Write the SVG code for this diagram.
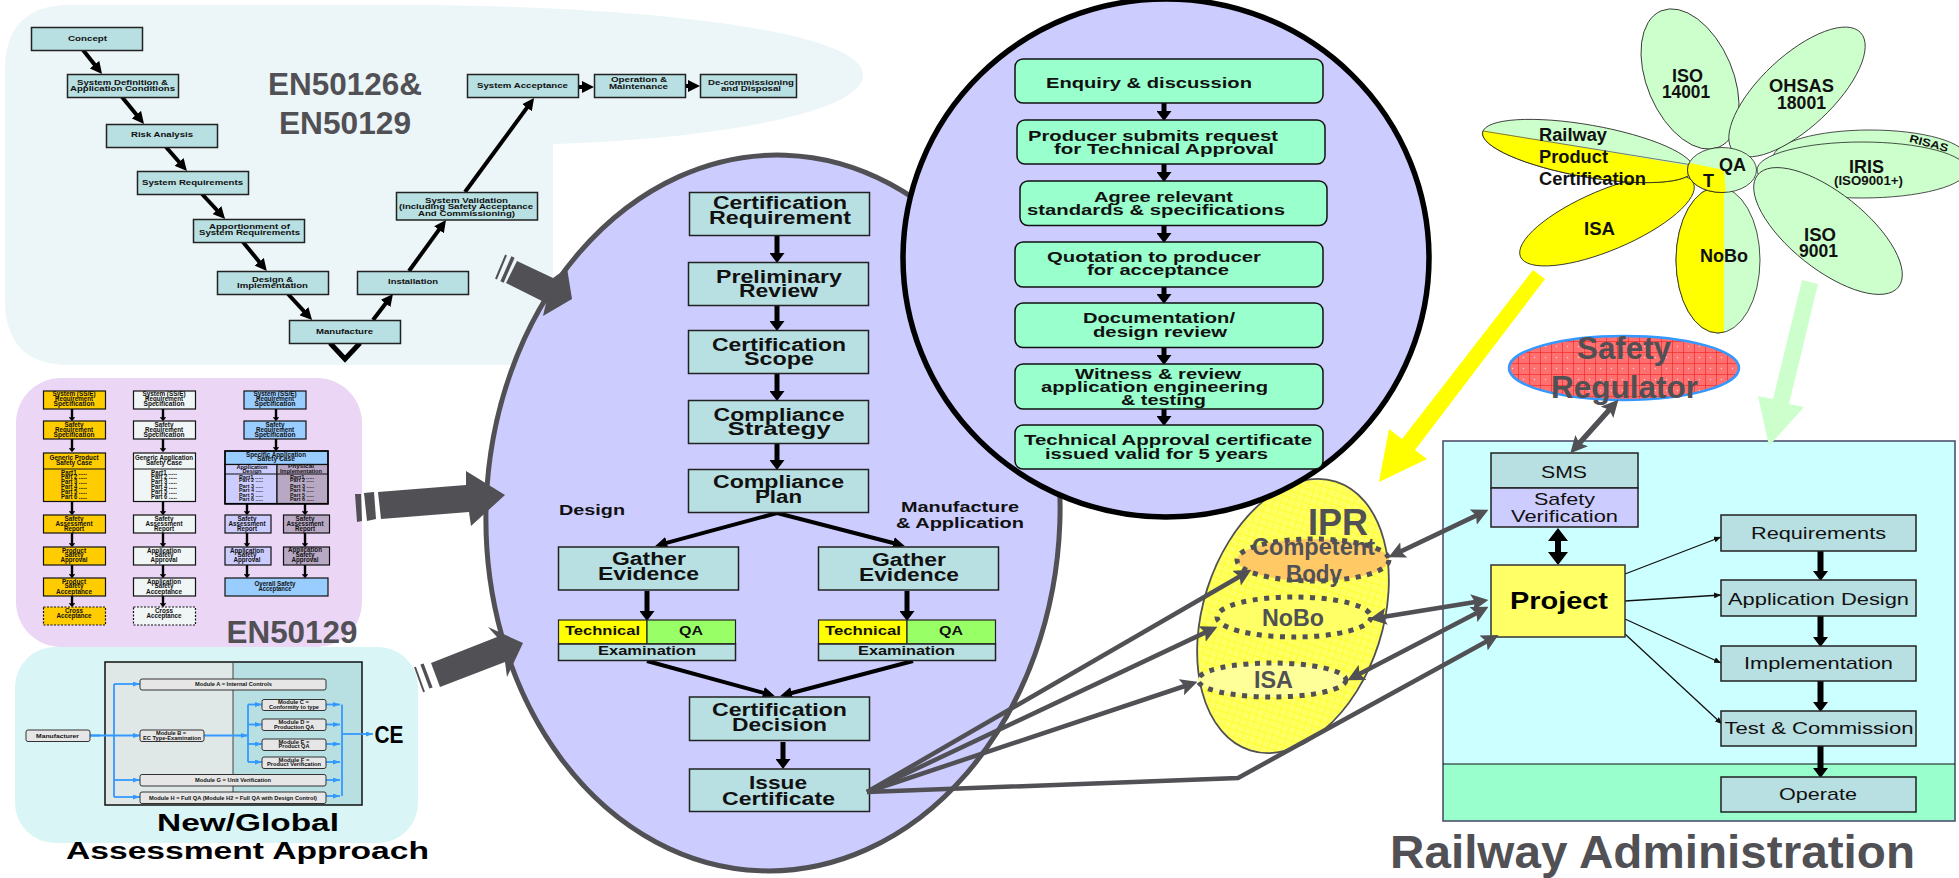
<svg xmlns="http://www.w3.org/2000/svg" width="1959" height="878" viewBox="0 0 1959 878">
<style>
text{font-family:"Liberation Sans",Arial,Helvetica,sans-serif;text-anchor:middle;fill:#111}
.b{font-weight:bold}
.g{font-weight:bold;fill:#505055}
.k{fill:#000}
.box{fill:#b8dfe1;stroke:#222;stroke-width:1.5}
.gr{fill:#99ffcc;stroke:#111;stroke-width:1.5}
.v{font-size:8px;font-weight:bold}
.m{font-size:18px;font-weight:bold}
.c{font-size:15px;font-weight:bold}
.t{font-size:6.5px;font-weight:bold}
.p{font-size:5.2px;font-weight:bold}
.e{fill:#e6e6e6;stroke:#333;stroke-width:1}
.pet{fill:#ccffcc;stroke:#222;stroke-width:.8}
.f{font-size:18px;font-weight:bold}
.rr{font-size:17px}
.s1{fill:#ffcc00;stroke:#111;stroke-width:1.2}
.s2{fill:#f0f5f5;stroke:#111;stroke-width:1.2}
.s3{fill:#99ccff;stroke:#111;stroke-width:1.2}
.s4{fill:#ccccff;stroke:#111;stroke-width:1.2}
.s5{fill:#b8a8c4;stroke:#111;stroke-width:1.2}
.lk{stroke:#000;stroke-width:4;fill:none;marker-end:url(#hb)}
.lv{stroke:#000;stroke-width:5;fill:none;marker-end:url(#hv)}
.ls{stroke:#000;stroke-width:2.4;fill:none;marker-end:url(#hs)}
.lg{stroke:#505055;stroke-width:4.5;fill:none;marker-end:url(#hg)}
.lgd{stroke:#505055;stroke-width:4.5;fill:none;marker-end:url(#hg);marker-start:url(#hg)}
.lt{stroke:#111;stroke-width:1.3;fill:none;marker-end:url(#ht)}
.lb{stroke:#3399ff;stroke-width:1.8;fill:none}
.la{stroke:#3399ff;stroke-width:1.8;fill:none;marker-end:url(#hu)}
.dot{stroke:#505055;stroke-width:5;stroke-dasharray:5 6.5}
</style>
<defs>
<marker id="hb" viewBox="0 0 10 10" refX="5" refY="5" markerWidth="12" markerHeight="12" markerUnits="userSpaceOnUse" orient="auto"><path d="M0,0L10,5L0,10z"/></marker>
<marker id="hv" viewBox="0 0 10 10" refX="2" refY="5" markerWidth="10" markerHeight="15" markerUnits="userSpaceOnUse" orient="auto" preserveAspectRatio="none"><path d="M0,0L10,5L0,10z"/></marker>
<marker id="hs" viewBox="0 0 10 10" refX="2" refY="5" markerWidth="4" markerHeight="6.5" markerUnits="userSpaceOnUse" orient="auto" preserveAspectRatio="none"><path d="M0,0L10,5L0,10z"/></marker>
<marker id="hg" viewBox="0 0 10 10" refX="5" refY="5" markerWidth="17" markerHeight="17" markerUnits="userSpaceOnUse" orient="auto-start-reverse"><path fill="#505055" d="M0,0L10,5L0,10L2,5z"/></marker>
<marker id="ht" viewBox="0 0 10 10" refX="10" refY="5" markerWidth="7" markerHeight="6" markerUnits="userSpaceOnUse" orient="auto" preserveAspectRatio="none"><path fill="#111" d="M0,0L10,5L0,10z"/></marker>
<marker id="hu" viewBox="0 0 10 10" refX="10" refY="5" markerWidth="7" markerHeight="5" markerUnits="userSpaceOnUse" orient="auto" preserveAspectRatio="none"><path fill="#3399ff" d="M0,0L10,5L0,10z"/></marker>
<pattern id="py" width="7" height="7" patternUnits="userSpaceOnUse"><rect width="7" height="7" fill="#ffff66"/><path d="M0,0H7M0,0V7" stroke="#ffff00" stroke-width="1"/></pattern>
<pattern id="pr" width="11" height="11" patternUnits="userSpaceOnUse"><rect width="11" height="11" fill="#ff7070"/><path d="M0,0H11M0,0V11" stroke="#f01010" stroke-width="1"/><circle cx="5.5" cy="5.5" r=".7" fill="#ffd0d0"/></pattern>
<clipPath id="cy1"><rect x="1660" y="180" width="64" height="160"/></clipPath>
<clipPath id="cy2"><polygon points="1470,128 1725,172 1725,200 1470,200"/></clipPath>
<clipPath id="cy3"><polygon points="1680,161 1724,170 1726,195 1680,200"/></clipPath>
</defs>

<g id="panel-en50126">
<path d="M70,5 L400,5 C640,5 863,30 863,75 C863,115 700,140 553,144 L553,365 L70,365 Q5,365 5,300 L5,70 Q5,5 70,5Z" fill="#ecf5f7"/>
<text class="g" x="345" y="95" font-size="32" textLength="154" lengthAdjust="spacingAndGlyphs">EN50126&amp;</text>
<text class="g" x="345" y="134" font-size="32" textLength="132" lengthAdjust="spacingAndGlyphs">EN50129</text>
</g>
<g id="panel-en50129"><rect x="16" y="378" width="346" height="269" rx="45" fill="#ebd6f5"/></g>
<g id="panel-global"><rect x="15" y="647" width="403" height="196" rx="40" fill="#d9f5f5"/></g>

<g id="vmodel-connectors">
<path class="lk" d="M83,50L98.3,69.3"/><path class="lk" d="M122,97L140.2,119.3"/><path class="lk" d="M166,147L183,166.5"/><path class="lk" d="M202,194L221,214.5"/><path class="lk" d="M243,242L263,266.4"/><path class="lk" d="M288,294L308,315.6"/><path class="lk" d="M373,320L389.3,298.7"/><path class="lk" d="M409,271L442.5,224.9"/><path class="lk" d="M465,192L530.5,102.9"/><path class="lk" d="M578,87L588,87"/><path class="lk" d="M685,86L694,86"/>
<path d="M330,343L345,359L360,343" fill="none" stroke="#000" stroke-width="5"/>
</g>
<g id="v-concept"><rect class="box" x="31.500" y="27.500" width="111" height="23"/><text class="v" x="87.500" y="41" textLength="39" lengthAdjust="spacingAndGlyphs">Concept</text></g>
<g id="v-sysdef"><rect class="box" x="67.500" y="74.500" width="111" height="23"/><text class="v" x="122.500" y="85" textLength="91" lengthAdjust="spacingAndGlyphs">System Definition &amp;</text><text class="v" x="122.500" y="91" textLength="105" lengthAdjust="spacingAndGlyphs">Application Conditions</text></g>
<g id="v-risk"><rect class="box" x="106.500" y="124.500" width="111" height="23"/><text class="v" x="162" y="137" textLength="62" lengthAdjust="spacingAndGlyphs">Risk Analysis</text></g>
<g id="v-sysreq"><rect class="box" x="137.500" y="171.500" width="111" height="23"/><text class="v" x="192.500" y="185" textLength="101" lengthAdjust="spacingAndGlyphs">System Requirements</text></g>
<g id="v-apport"><rect class="box" x="193.500" y="219.500" width="111" height="23"/><text class="v" x="249.500" y="229" textLength="81" lengthAdjust="spacingAndGlyphs">Apportionment of</text><text class="v" x="249.500" y="235" textLength="101" lengthAdjust="spacingAndGlyphs">System Requirements</text></g>
<g id="v-design"><rect class="box" x="217.500" y="271.500" width="111" height="23"/><text class="v" x="272.500" y="282" textLength="41" lengthAdjust="spacingAndGlyphs">Design &amp;</text><text class="v" x="272.500" y="288" textLength="71" lengthAdjust="spacingAndGlyphs">Implementation</text></g>
<g id="v-manufacture"><rect class="box" x="289.500" y="320.500" width="111" height="23"/><text class="v" x="344.500" y="334" textLength="57" lengthAdjust="spacingAndGlyphs">Manufacture</text></g>
<g id="v-installation"><rect class="box" x="357.500" y="271.500" width="111" height="23"/><text class="v" x="413" y="284" textLength="50" lengthAdjust="spacingAndGlyphs">Installation</text></g>
<g id="v-validation"><rect class="box" x="396.500" y="192.500" width="141" height="27.500"/><text class="v" x="466.500" y="203" textLength="83" lengthAdjust="spacingAndGlyphs">System Validation</text><text class="v" x="466" y="209" textLength="134" lengthAdjust="spacingAndGlyphs">(including Safety Acceptance</text><text class="v" x="466.500" y="216" textLength="97" lengthAdjust="spacingAndGlyphs">And Commissioning)</text></g>
<g id="v-acceptance"><rect class="box" x="467.500" y="74.500" width="111" height="23"/><text class="v" x="522.500" y="88" textLength="91" lengthAdjust="spacingAndGlyphs">System Acceptance</text></g>
<g id="v-operation"><rect class="box" x="594.500" y="74.500" width="91" height="23"/><text class="v" x="639" y="82" textLength="56" lengthAdjust="spacingAndGlyphs">Operation &amp;</text><text class="v" x="638.500" y="89" textLength="59" lengthAdjust="spacingAndGlyphs">Maintenance</text></g>
<g id="v-decom"><rect class="box" x="700.500" y="74.500" width="96" height="23"/><text class="v" x="751" y="85" textLength="86" lengthAdjust="spacingAndGlyphs">De-commissioning</text><text class="v" x="751" y="91" textLength="60" lengthAdjust="spacingAndGlyphs">and Disposal</text></g>

<g id="en50129-diagram">
<text class="g" x="292" y="643" font-size="32" textLength="131" lengthAdjust="spacingAndGlyphs">EN50129</text>
<g id="en-arrows"><path class="ls" d="M72,409V418"/><path class="ls" d="M72,439V449"/><path class="ls" d="M72,501V512"/><path class="ls" d="M72,533V544"/><path class="ls" d="M72,565V575"/><path class="ls" d="M72,596V604"/><path class="ls" d="M163,409V418"/><path class="ls" d="M163,439V449"/><path class="ls" d="M163,501V512"/><path class="ls" d="M163,533V544"/><path class="ls" d="M163,565V575"/><path class="ls" d="M163,596V604"/><path class="ls" d="M276,409V418"/><path class="ls" d="M276,439V448"/><path class="ls" d="M247,504V512"/><path class="ls" d="M305,504V512"/><path class="ls" d="M247,533V544"/><path class="ls" d="M305,533V544"/><path class="ls" d="M247,565V575"/><path class="ls" d="M305,565V575"/></g>
<g id="col1">
<rect class="s1" x="43.500" y="391" width="62" height="18"/><text class="t" x="74" y="396" textLength="43" lengthAdjust="spacingAndGlyphs">System (SS/E)</text><text class="t" x="74" y="401" textLength="38" lengthAdjust="spacingAndGlyphs">Requirement</text><text class="t" x="74" y="406" textLength="41" lengthAdjust="spacingAndGlyphs">Specification</text>
<rect class="s1" x="43.500" y="421" width="62" height="18"/><text class="t" x="74" y="427" textLength="19" lengthAdjust="spacingAndGlyphs">Safety</text><text class="t" x="74" y="432" textLength="38" lengthAdjust="spacingAndGlyphs">Requirement</text><text class="t" x="74" y="437" textLength="41" lengthAdjust="spacingAndGlyphs">Specification</text>
<rect class="s1" x="43.500" y="453" width="62" height="48.500"/><path d="M43.500,469H105.500" stroke="#111"/><text class="t" x="74" y="460" textLength="49" lengthAdjust="spacingAndGlyphs">Generic Product</text><text class="t" x="74" y="465" textLength="36" lengthAdjust="spacingAndGlyphs">Safety Case</text>
<text class="t" x="74" y="475" textLength="26" lengthAdjust="spacingAndGlyphs">Part1 .....</text><text class="t" x="74" y="479" textLength="26" lengthAdjust="spacingAndGlyphs">Part 2 .....</text><text class="t" x="74" y="484" textLength="26" lengthAdjust="spacingAndGlyphs">Part 3 .....</text><text class="t" x="74" y="489" textLength="26" lengthAdjust="spacingAndGlyphs">Part 4 .....</text><text class="t" x="74" y="494" textLength="26" lengthAdjust="spacingAndGlyphs">Part 5 .....</text><text class="t" x="74" y="499" textLength="26" lengthAdjust="spacingAndGlyphs">Part 6 .....</text>
<rect class="s1" x="43.500" y="515" width="62" height="18"/><text class="t" x="74" y="521" textLength="19" lengthAdjust="spacingAndGlyphs">Safety</text><text class="t" x="74" y="526" textLength="37" lengthAdjust="spacingAndGlyphs">Assessment</text><text class="t" x="74" y="531" textLength="20" lengthAdjust="spacingAndGlyphs">Report</text>
<rect class="s1" x="43.500" y="547" width="62" height="18"/><text class="t" x="74" y="553" textLength="24" lengthAdjust="spacingAndGlyphs">Product</text><text class="t" x="74" y="557" textLength="19" lengthAdjust="spacingAndGlyphs">Safety</text><text class="t" x="74" y="562" textLength="27" lengthAdjust="spacingAndGlyphs">Approval</text>
<rect class="s1" x="43.500" y="578" width="62" height="18"/><text class="t" x="74" y="584" textLength="24" lengthAdjust="spacingAndGlyphs">Product</text><text class="t" x="74" y="588" textLength="19" lengthAdjust="spacingAndGlyphs">Safety</text><text class="t" x="74" y="594" textLength="36" lengthAdjust="spacingAndGlyphs">Acceptance</text>
<rect class="s1" x="43.500" y="607" width="62" height="18" stroke-dasharray="2 1.500"/><text class="t" x="74" y="613" textLength="18" lengthAdjust="spacingAndGlyphs">Cross</text><text class="t" x="74" y="618" textLength="35" lengthAdjust="spacingAndGlyphs">Acceptance</text>
</g>
<g id="col2">
<rect class="s2" x="133.500" y="391" width="62" height="18"/><text class="t" x="164" y="396" textLength="43" lengthAdjust="spacingAndGlyphs">System (SS/E)</text><text class="t" x="164" y="401" textLength="38" lengthAdjust="spacingAndGlyphs">Requirement</text><text class="t" x="164" y="406" textLength="41" lengthAdjust="spacingAndGlyphs">Specification</text>
<rect class="s2" x="133.500" y="421" width="62" height="18"/><text class="t" x="164" y="427" textLength="19" lengthAdjust="spacingAndGlyphs">Safety</text><text class="t" x="164" y="432" textLength="38" lengthAdjust="spacingAndGlyphs">Requirement</text><text class="t" x="164" y="437" textLength="41" lengthAdjust="spacingAndGlyphs">Specification</text>
<rect class="s2" x="133.500" y="453" width="62" height="48.500"/><path d="M133.500,469H195.500" stroke="#111"/><text class="t" x="164" y="460" textLength="58" lengthAdjust="spacingAndGlyphs">Generic Application</text><text class="t" x="164" y="465" textLength="36" lengthAdjust="spacingAndGlyphs">Safety Case</text>
<text class="t" x="164" y="475" textLength="26" lengthAdjust="spacingAndGlyphs">Part1 .....</text><text class="t" x="164" y="479" textLength="26" lengthAdjust="spacingAndGlyphs">Part 2 .....</text><text class="t" x="164" y="484" textLength="26" lengthAdjust="spacingAndGlyphs">Part 3 .....</text><text class="t" x="164" y="489" textLength="26" lengthAdjust="spacingAndGlyphs">Part 4 .....</text><text class="t" x="164" y="494" textLength="26" lengthAdjust="spacingAndGlyphs">Part 5 .....</text><text class="t" x="164" y="499" textLength="26" lengthAdjust="spacingAndGlyphs">Part 6 .....</text>
<rect class="s2" x="133.500" y="515" width="62" height="18"/><text class="t" x="164" y="521" textLength="19" lengthAdjust="spacingAndGlyphs">Safety</text><text class="t" x="164" y="526" textLength="37" lengthAdjust="spacingAndGlyphs">Assessment</text><text class="t" x="164" y="531" textLength="20" lengthAdjust="spacingAndGlyphs">Report</text>
<rect class="s2" x="133.500" y="547" width="62" height="18"/><text class="t" x="164" y="553" textLength="34" lengthAdjust="spacingAndGlyphs">Application</text><text class="t" x="164" y="557" textLength="19" lengthAdjust="spacingAndGlyphs">Safety</text><text class="t" x="164" y="562" textLength="27" lengthAdjust="spacingAndGlyphs">Approval</text>
<rect class="s2" x="133.500" y="578" width="62" height="18"/><text class="t" x="164" y="584" textLength="34" lengthAdjust="spacingAndGlyphs">Application</text><text class="t" x="164" y="588" textLength="19" lengthAdjust="spacingAndGlyphs">Safety</text><text class="t" x="164" y="594" textLength="36" lengthAdjust="spacingAndGlyphs">Acceptance</text>
<rect class="s2" x="133.500" y="607" width="62" height="18" stroke-dasharray="2 1.500"/><text class="t" x="164" y="613" textLength="18" lengthAdjust="spacingAndGlyphs">Cross</text><text class="t" x="164" y="618" textLength="35" lengthAdjust="spacingAndGlyphs">Acceptance</text>
</g>
<g id="col3">
<rect class="s3" x="244" y="391" width="62" height="18"/><text class="t" x="275" y="396" textLength="43" lengthAdjust="spacingAndGlyphs">System (SS/E)</text><text class="t" x="275" y="401" textLength="38" lengthAdjust="spacingAndGlyphs">Requirement</text><text class="t" x="275" y="406" textLength="41" lengthAdjust="spacingAndGlyphs">Specification</text>
<rect class="s3" x="244" y="421" width="62" height="18"/><text class="t" x="275" y="427" textLength="19" lengthAdjust="spacingAndGlyphs">Safety</text><text class="t" x="275" y="432" textLength="38" lengthAdjust="spacingAndGlyphs">Requirement</text><text class="t" x="275" y="437" textLength="41" lengthAdjust="spacingAndGlyphs">Specification</text>
<rect class="s3" x="225" y="451" width="103" height="13.500"/>
<rect class="s4" x="225" y="464.500" width="52" height="39"/><rect class="s5" x="277" y="464.500" width="51" height="39"/>
<path d="M225,474H328M225,503.500H328" stroke="#111" stroke-width="1.200"/>
<rect x="225" y="451" width="103" height="53" fill="none" stroke="#000" stroke-width="1.500"/>
<text class="t" x="276" y="457" textLength="60" lengthAdjust="spacingAndGlyphs">Specific Application</text><text class="t" x="276" y="461" textLength="38" lengthAdjust="spacingAndGlyphs">Safety Case</text>
<text class="p" x="252" y="469" textLength="31" lengthAdjust="spacingAndGlyphs">Application</text><text class="p" x="252" y="473" textLength="19" lengthAdjust="spacingAndGlyphs">Design</text>
<text class="p" x="301" y="468" textLength="26" lengthAdjust="spacingAndGlyphs">Physical</text><text class="p" x="301" y="473" textLength="42" lengthAdjust="spacingAndGlyphs">Implementation</text>
<text class="p" x="251" y="479" textLength="24" lengthAdjust="spacingAndGlyphs">Part1 .....</text><text class="p" x="251" y="482" textLength="24" lengthAdjust="spacingAndGlyphs">Part 2 .....</text><text class="p" x="251" y="488" textLength="24" lengthAdjust="spacingAndGlyphs">Part 3 .....</text><text class="p" x="251" y="492" textLength="24" lengthAdjust="spacingAndGlyphs">Part 4 .....</text><text class="p" x="251" y="497" textLength="24" lengthAdjust="spacingAndGlyphs">Part 5 .....</text><text class="p" x="251" y="501" textLength="24" lengthAdjust="spacingAndGlyphs">Part 6 .....</text>
<text class="p" x="302" y="479" textLength="24" lengthAdjust="spacingAndGlyphs">Part1 .....</text><text class="p" x="302" y="482" textLength="24" lengthAdjust="spacingAndGlyphs">Part 2 .....</text><text class="p" x="302" y="488" textLength="24" lengthAdjust="spacingAndGlyphs">Part 3 .....</text><text class="p" x="302" y="492" textLength="24" lengthAdjust="spacingAndGlyphs">Part 4 .....</text><text class="p" x="302" y="497" textLength="24" lengthAdjust="spacingAndGlyphs">Part 5 .....</text><text class="p" x="302" y="501" textLength="24" lengthAdjust="spacingAndGlyphs">Part 6 .....</text>
<rect class="s4" x="225" y="515" width="46" height="18"/><text class="t" x="247" y="521" textLength="19" lengthAdjust="spacingAndGlyphs">Safety</text><text class="t" x="247" y="526" textLength="37" lengthAdjust="spacingAndGlyphs">Assessment</text><text class="t" x="247" y="531" textLength="20" lengthAdjust="spacingAndGlyphs">Report</text>
<rect class="s5" x="283.500" y="515" width="46" height="18"/><text class="t" x="305" y="521" textLength="19" lengthAdjust="spacingAndGlyphs">Safety</text><text class="t" x="305" y="526" textLength="37" lengthAdjust="spacingAndGlyphs">Assessment</text><text class="t" x="305" y="531" textLength="20" lengthAdjust="spacingAndGlyphs">Report</text>
<rect class="s4" x="225" y="547" width="46" height="18"/><text class="t" x="247" y="553" textLength="34" lengthAdjust="spacingAndGlyphs">Application</text><text class="t" x="247" y="557" textLength="19" lengthAdjust="spacingAndGlyphs">Safety</text><text class="t" x="247" y="562" textLength="27" lengthAdjust="spacingAndGlyphs">Approval</text>
<rect class="s5" x="283.500" y="547" width="46" height="18"/><text class="t" x="305" y="552" textLength="34" lengthAdjust="spacingAndGlyphs">Application</text><text class="t" x="305" y="557" textLength="19" lengthAdjust="spacingAndGlyphs">Safety</text><text class="t" x="305" y="562" textLength="27" lengthAdjust="spacingAndGlyphs">Approval</text>
<rect class="s3" x="225" y="578" width="103" height="18"/><text class="t" x="275" y="586" textLength="41" lengthAdjust="spacingAndGlyphs">Overall Safety</text><text class="t" x="275" y="591" textLength="33" lengthAdjust="spacingAndGlyphs">Acceptance</text>
</g>
</g>

<g id="global-diagram">
<rect x="105" y="662" width="128" height="143" fill="#dfe8e6"/><rect x="233" y="662" width="129" height="143" fill="#b8dfe1"/>
<rect x="105" y="662" width="257" height="143" fill="none" stroke="#111" stroke-width="1.500"/><path d="M233,662V805" stroke="#444" stroke-width="1"/>
<g id="global-connectors">
<path class="lb" d="M90,735.500H100M114,797V684"/>
<path class="la" d="M90,735.500H140"/><path class="la" d="M114,684H140"/><path class="la" d="M114,780H140"/><path class="la" d="M114,797H140"/>
<path class="la" d="M204,735.500H248"/><path class="lb" d="M248,704.500V762"/>
<path class="la" d="M248,704.500H262"/><path class="la" d="M248,724.500H262"/><path class="la" d="M248,744H262"/><path class="la" d="M248,762H262"/>
<path class="la" d="M326,704.500H340"/><path class="la" d="M326,724.500H340"/><path class="la" d="M326,744H340"/><path class="la" d="M326,762H340"/><path class="la" d="M326,780H340"/><path class="la" d="M326,796H340"/>
<path class="lb" d="M342,704.500V796"/><path class="la" d="M342,734H373"/>
</g>
<g id="mod-manufacturer"><rect class="e" x="26" y="730" width="64" height="11.500" rx="2"/><text class="p" x="57.500" y="737.500" textLength="43" lengthAdjust="spacingAndGlyphs">Manufacturer</text></g>
<g id="mod-a"><rect class="e" x="140" y="679" width="186" height="11" rx="2"/><text class="p" x="233.500" y="686" textLength="77" lengthAdjust="spacingAndGlyphs">Module A = Internal Controls</text></g>
<g id="mod-b"><rect class="e" x="140" y="730" width="64" height="11.500" rx="2"/><text class="p" x="171" y="735" textLength="30" lengthAdjust="spacingAndGlyphs">Module B =</text><text class="p" x="172" y="740" textLength="58" lengthAdjust="spacingAndGlyphs">EC Type-Examination</text></g>
<g id="mod-c"><rect class="e" x="262" y="699.500" width="64" height="11" rx="2"/><text class="p" x="293.500" y="704" textLength="31" lengthAdjust="spacingAndGlyphs">Module C =</text><text class="p" x="294" y="708.500" textLength="50" lengthAdjust="spacingAndGlyphs">Conformity to type</text></g>
<g id="mod-d"><rect class="e" x="262" y="719" width="64" height="11.500" rx="2"/><text class="p" x="294" y="724" textLength="31" lengthAdjust="spacingAndGlyphs">Module D =</text><text class="p" x="294" y="728.500" textLength="40" lengthAdjust="spacingAndGlyphs">Production QA</text></g>
<g id="mod-e"><rect class="e" x="262" y="739" width="64" height="11.500" rx="2"/><text class="p" x="294" y="743.500" textLength="31" lengthAdjust="spacingAndGlyphs">Module E =</text><text class="p" x="294" y="748" textLength="31" lengthAdjust="spacingAndGlyphs">Product QA</text></g>
<g id="mod-f"><rect class="e" x="262" y="757" width="64" height="11.500" rx="2"/><text class="p" x="294" y="761.500" textLength="31" lengthAdjust="spacingAndGlyphs">Module F =</text><text class="p" x="294" y="766" textLength="54" lengthAdjust="spacingAndGlyphs">Product Verification</text></g>
<g id="mod-g"><rect class="e" x="140" y="774.500" width="186" height="11.500" rx="2"/><text class="p" x="233" y="781.500" textLength="76" lengthAdjust="spacingAndGlyphs">Module G = Unit Verification</text></g>
<g id="mod-h"><rect class="e" x="140" y="792" width="186" height="11.500" rx="2"/><text class="p" x="233" y="799.500" textLength="168" lengthAdjust="spacingAndGlyphs">Module H = Full QA (Module H2 = Full QA with Design Control)</text></g>
<text class="b k" x="389" y="743" font-size="23" textLength="29" lengthAdjust="spacingAndGlyphs">CE</text>
<text class="b k" x="248" y="831" font-size="23" textLength="182" lengthAdjust="spacingAndGlyphs">New/Global</text>
<text class="b k" x="247.500" y="859" font-size="23" textLength="363" lengthAdjust="spacingAndGlyphs">Assessment Approach</text>
</g>

<g id="main-ellipse"><ellipse cx="773" cy="513" rx="287" ry="358" transform="rotate(2 773 513)" fill="#ccccff" stroke="#505055" stroke-width="5"/></g>

<g id="feed-arrows" fill="#505055">
<polygon points="517,261 553,278 567,268 572,299 543,316 546,303 506,283"/>
<path d="M506,255L496,279" stroke="#505055" stroke-width="2" fill="none"/><path d="M513,257L502,282" stroke="#505055" stroke-width="3.500" fill="none"/>
<polygon points="378,492 466,485 466,471 505,495 471,526 469,512 381,519"/>
<polygon points="364,493 374,492 376,519 367,521"/><polygon points="355,494 361,494 362,521 357,522"/>
<polygon points="431,663 497,637 488,627 523,643 507,677 505,662 440,687"/>
<path d="M422,664L431,688" stroke="#505055" stroke-width="3.500" fill="none"/><path d="M415,667L424,692" stroke="#505055" stroke-width="2" fill="none"/>
</g>

<g id="flow-connectors">
<path class="lv" d="M777,235V255"/><path class="lv" d="M777,305V323"/><path class="lv" d="M777,374V393"/><path class="lv" d="M777,444V462"/>
<path class="lk" d="M777,513L661,544.400"/><path class="lk" d="M777,513L899,544.500"/>
<path class="lv" d="M647,591V613"/><path class="lv" d="M907,591V613"/>
<path class="lk" d="M647,661L769,694.400"/><path class="lk" d="M913,661L786,694.500"/>
<path class="lv" d="M783,742V761"/>
</g>
<g id="n-cert-req"><rect class="box" x="689.500" y="192.500" width="180" height="43"/><text class="m" x="780" y="209" textLength="134" lengthAdjust="spacingAndGlyphs">Certification</text><text class="m" x="780" y="224" textLength="142" lengthAdjust="spacingAndGlyphs">Requirement</text></g>
<g id="n-prelim"><rect class="box" x="688.500" y="262.500" width="180" height="43"/><text class="m" x="779" y="283" textLength="126" lengthAdjust="spacingAndGlyphs">Preliminary</text><text class="m" x="778.500" y="297" textLength="79" lengthAdjust="spacingAndGlyphs">Review</text></g>
<g id="n-scope"><rect class="box" x="688.500" y="330.500" width="180" height="43"/><text class="m" x="779" y="351" textLength="134" lengthAdjust="spacingAndGlyphs">Certification</text><text class="m" x="779" y="365" textLength="70" lengthAdjust="spacingAndGlyphs">Scope</text></g>
<g id="n-strategy"><rect class="box" x="688.500" y="400.500" width="180" height="43"/><text class="m" x="779" y="421" textLength="131" lengthAdjust="spacingAndGlyphs">Compliance</text><text class="m" x="779" y="435" textLength="103" lengthAdjust="spacingAndGlyphs">Strategy</text></g>
<g id="n-plan"><rect class="box" x="688.500" y="469.500" width="180" height="43"/><text class="m" x="778.500" y="488" textLength="131" lengthAdjust="spacingAndGlyphs">Compliance</text><text class="m" x="778.500" y="503" textLength="47" lengthAdjust="spacingAndGlyphs">Plan</text></g>
<text class="v" x="592" y="515" style="font-size:15px" textLength="66" lengthAdjust="spacingAndGlyphs">Design</text>
<text class="v" x="960" y="512" style="font-size:15px" textLength="118" lengthAdjust="spacingAndGlyphs">Manufacture</text><text class="v" x="960" y="528" style="font-size:15px" textLength="128" lengthAdjust="spacingAndGlyphs">&amp; Application</text>
<g id="n-gather-l"><rect class="box" x="558.500" y="547" width="180" height="43"/><text class="m" x="649" y="565" textLength="74" lengthAdjust="spacingAndGlyphs">Gather</text><text class="m" x="648.500" y="580" textLength="101" lengthAdjust="spacingAndGlyphs">Evidence</text></g>
<g id="n-gather-r"><rect class="box" x="818.500" y="547" width="180" height="43"/><text class="m" x="909" y="566" textLength="74" lengthAdjust="spacingAndGlyphs">Gather</text><text class="m" x="909" y="581" textLength="100" lengthAdjust="spacingAndGlyphs">Evidence</text></g>
<g id="n-exam-l"><rect x="558.500" y="620" width="88.500" height="24" fill="#ffff00" stroke="#222" stroke-width="1.200"/><rect x="647" y="620" width="88.500" height="24" fill="#99ff66" stroke="#222" stroke-width="1.200"/><rect class="box" x="558.500" y="644" width="177" height="16.500"/><text class="c" x="602.500" y="635" style="font-size:13px" textLength="75" lengthAdjust="spacingAndGlyphs">Technical</text><text class="c" x="691" y="635" style="font-size:13px" textLength="24" lengthAdjust="spacingAndGlyphs">QA</text><text class="c" x="647" y="655" style="font-size:13px" textLength="98" lengthAdjust="spacingAndGlyphs">Examination</text></g>
<g id="n-exam-r"><rect x="818.500" y="620" width="88.500" height="24" fill="#ffff00" stroke="#222" stroke-width="1.200"/><rect x="907" y="620" width="88.500" height="24" fill="#99ff66" stroke="#222" stroke-width="1.200"/><rect class="box" x="818.500" y="644" width="177" height="16.500"/><text class="c" x="863" y="635" style="font-size:13px" textLength="76" lengthAdjust="spacingAndGlyphs">Technical</text><text class="c" x="951" y="635" style="font-size:13px" textLength="24" lengthAdjust="spacingAndGlyphs">QA</text><text class="c" x="906.500" y="655" style="font-size:13px" textLength="97" lengthAdjust="spacingAndGlyphs">Examination</text></g>
<g id="n-decision"><rect class="box" x="689.500" y="697" width="180" height="43.500"/><text class="m" x="779.500" y="716" textLength="135" lengthAdjust="spacingAndGlyphs">Certification</text><text class="m" x="779.500" y="731" textLength="95" lengthAdjust="spacingAndGlyphs">Decision</text></g>
<g id="n-issue"><rect class="box" x="689.500" y="769" width="180" height="42.500"/><text class="m" x="778" y="789" textLength="58" lengthAdjust="spacingAndGlyphs">Issue</text><text class="m" x="778.500" y="805" textLength="113" lengthAdjust="spacingAndGlyphs">Certificate</text></g>

<g id="n-ipr">
<ellipse cx="1293" cy="616" rx="90" ry="141" transform="rotate(17.7 1293 616)" fill="url(#py)" stroke="#505055" stroke-width="1.800"/>
<ellipse cx="1313" cy="560" rx="76" ry="21" fill="#ffc966" class="dot"/>
<ellipse cx="1294" cy="617" rx="77" ry="20" fill="#ffff66" class="dot"/>
<ellipse cx="1272" cy="680" rx="74" ry="17" fill="#ffff99" class="dot"/>
<text class="g" x="1338" y="535" font-size="37" textLength="60" lengthAdjust="spacingAndGlyphs">IPR</text>
<text class="g" x="1313.500" y="555" font-size="23.500" textLength="123" lengthAdjust="spacingAndGlyphs">Competent</text>
<text class="g" x="1314" y="582" font-size="23.500" textLength="56" lengthAdjust="spacingAndGlyphs">Body</text>
<text class="g" x="1293" y="626" font-size="23.500" textLength="62" lengthAdjust="spacingAndGlyphs">NoBo</text>
<text class="g" x="1273.500" y="688" font-size="23.500" textLength="39" lengthAdjust="spacingAndGlyphs">ISA</text>
</g>

<g id="n-process-circle">
<ellipse cx="1166" cy="258" rx="263" ry="259" fill="#ccccff" stroke="#000" stroke-width="5.500"/>
<g id="circle-connectors"><path class="lv" d="M1164,103V113"/><path class="lv" d="M1164,164V174"/><path class="lv" d="M1164,225V235"/><path class="lv" d="M1164,287V296"/><path class="lv" d="M1164,347V357"/><path class="lv" d="M1164,409V418"/></g>
<g id="c-enquiry"><rect class="gr" x="1015" y="59" width="308" height="44" rx="8"/><text class="c" x="1149" y="88" textLength="206" lengthAdjust="spacingAndGlyphs">Enquiry &amp; discussion</text></g>
<g id="c-producer"><rect class="gr" x="1017" y="120" width="308" height="44" rx="8"/><text class="c" x="1153" y="141" textLength="250" lengthAdjust="spacingAndGlyphs">Producer submits request</text><text class="c" x="1164" y="154" textLength="220" lengthAdjust="spacingAndGlyphs">for Technical Approval</text></g>
<g id="c-agree"><rect class="gr" x="1020" y="181" width="307" height="44.500" rx="8"/><text class="c" x="1163.500" y="202" textLength="139" lengthAdjust="spacingAndGlyphs">Agree relevant</text><text class="c" x="1156" y="215" textLength="258" lengthAdjust="spacingAndGlyphs">standards &amp; specifications</text></g>
<g id="c-quotation"><rect class="gr" x="1015" y="242" width="308" height="45" rx="8"/><text class="c" x="1154" y="262" textLength="214" lengthAdjust="spacingAndGlyphs">Quotation to producer</text><text class="c" x="1158" y="275" textLength="142" lengthAdjust="spacingAndGlyphs">for acceptance</text></g>
<g id="c-doc"><rect class="gr" x="1015" y="303" width="308" height="44.500" rx="8"/><text class="c" x="1159" y="323" textLength="152" lengthAdjust="spacingAndGlyphs">Documentation/</text><text class="c" x="1160" y="337" textLength="134" lengthAdjust="spacingAndGlyphs">design review</text></g>
<g id="c-witness"><rect class="gr" x="1015" y="364" width="308" height="45" rx="8"/><text class="c" x="1158" y="379" textLength="166" lengthAdjust="spacingAndGlyphs">Witness &amp; review</text><text class="c" x="1154.500" y="392" textLength="227" lengthAdjust="spacingAndGlyphs">application engineering</text><text class="c" x="1163.500" y="405" textLength="85" lengthAdjust="spacingAndGlyphs">&amp; testing</text></g>
<g id="c-approval"><rect class="gr" x="1015" y="425" width="308" height="44" rx="8"/><text class="c" x="1168" y="445" textLength="288" lengthAdjust="spacingAndGlyphs">Technical Approval certificate</text><text class="c" x="1156.500" y="459" textLength="223" lengthAdjust="spacingAndGlyphs">issued valid for 5 years</text></g>
</g>

<g id="n-railway-admin">
<rect x="1443" y="441" width="512" height="323" fill="#ccffff"/><rect x="1443" y="764" width="512" height="57" fill="#99ffcc"/>
<rect x="1443" y="441" width="512" height="380" fill="none" stroke="#446" stroke-width="1.500"/><path d="M1443,764H1955" stroke="#111" stroke-width="1.200"/>
<text class="g" x="1652.500" y="868" font-size="46" textLength="525" lengthAdjust="spacingAndGlyphs">Railway Administration</text>
</g>
<g id="railway-connectors">
<path class="lt" d="M1625,574L1721,537"/><path class="lt" d="M1625,601L1721,595"/><path class="lt" d="M1625,619L1721,663"/><path class="lt" d="M1625,634L1722,724"/>
<path class="lv" d="M1820.500,551V573" style="stroke-width:6"/><path class="lv" d="M1820.500,616V639" style="stroke-width:6"/><path class="lv" d="M1820.500,681V704" style="stroke-width:6"/><path class="lv" d="M1820.500,746V770" style="stroke-width:6"/>
<path d="M1558,528L1568,541H1561V552H1568L1558,565L1548,552H1555V541H1548Z" fill="#000"/>
</g>
<g id="r-sms"><rect class="box" x="1491" y="453" width="147" height="35"/><rect x="1491" y="488" width="147" height="39" fill="#ccccff" stroke="#222" stroke-width="1.500"/><text class="rr" x="1564" y="478" textLength="46" lengthAdjust="spacingAndGlyphs">SMS</text><text class="rr" x="1564.500" y="505" textLength="61" lengthAdjust="spacingAndGlyphs">Safety</text><text class="rr" x="1564.500" y="522" textLength="107" lengthAdjust="spacingAndGlyphs">Verification</text></g>
<g id="r-project"><rect x="1491" y="565" width="134" height="72" fill="#ffff66" stroke="#333" stroke-width="1.500"/><text class="b k" x="1559" y="609" font-size="23" textLength="98" lengthAdjust="spacingAndGlyphs">Project</text></g>
<g id="r-req"><rect class="box" x="1721" y="515" width="195" height="36"/><text class="rr" x="1818.500" y="539" textLength="135" lengthAdjust="spacingAndGlyphs">Requirements</text></g>
<g id="r-app"><rect class="box" x="1721" y="580" width="195" height="36"/><text class="rr" x="1818.500" y="605" textLength="181" lengthAdjust="spacingAndGlyphs">Application Design</text></g>
<g id="r-impl"><rect class="box" x="1721" y="646" width="195" height="35"/><text class="rr" x="1818.500" y="669" textLength="149" lengthAdjust="spacingAndGlyphs">Implementation</text></g>
<g id="r-test"><rect class="box" x="1721" y="711" width="195" height="35"/><text class="rr" x="1819" y="734" textLength="189" lengthAdjust="spacingAndGlyphs">Test &amp; Commission</text></g>
<g id="r-operate"><rect class="box" x="1721" y="777" width="195" height="35"/><text class="rr" x="1818" y="800" textLength="78" lengthAdjust="spacingAndGlyphs">Operate</text></g>

<g id="issue-connectors">
<path class="lg" d="M867,792L1244,574"/><path class="lg" d="M867,792L1209.800,630.400"/><path class="lg" d="M867,792L1189.400,684.500"/>
<path class="lg" d="M867,792L1238,778L1491,639"/>
<path class="lgd" d="M1396.200,553.600L1480.800,513.400"/><path class="lgd" d="M1378,617.700L1480,601.300"/><path class="lgd" d="M1355,676.300L1481,610.700"/>
</g>

<g id="flower">
<ellipse class="pet" cx="1870" cy="158" rx="97" ry="28"/>
<ellipse class="pet" cx="1690" cy="79" rx="43" ry="74" transform="rotate(-23 1690 79)"/>
<ellipse class="pet" cx="1797" cy="92" rx="87" ry="36" transform="rotate(-43 1797 92)"/>
<ellipse class="pet" cx="1862" cy="170" rx="105" ry="28"/>
<ellipse class="pet" cx="1828" cy="231" rx="90" ry="38" transform="rotate(38.500 1828 231)"/>
<ellipse cx="1607" cy="220" rx="94" ry="30" transform="rotate(-23 1607 220)" fill="#ffff00" stroke="#222" stroke-width=".8"/>
<ellipse class="pet" cx="1718" cy="260" rx="42" ry="73"/>
<ellipse cx="1718" cy="260" rx="42" ry="73" fill="#ffff00" stroke="#222" stroke-width=".8" clip-path="url(#cy1)"/>
<ellipse class="pet" cx="1588" cy="151" rx="107" ry="26" transform="rotate(10 1588 151)"/>
<g clip-path="url(#cy2)"><ellipse cx="1588" cy="151" rx="107" ry="26" transform="rotate(10 1588 151)" fill="#ffff00" stroke="#222" stroke-width=".8"/></g>
<path d="M1483,131L1723,170" stroke="#555" stroke-width=".8"/>
<ellipse class="pet" cx="1722" cy="170" rx="34.500" ry="22.500"/>
<g clip-path="url(#cy3)"><ellipse cx="1722" cy="170" rx="34.500" ry="22.500" fill="#ffff00" stroke="#222" stroke-width=".8"/></g>
<text class="f" x="1573" y="141" textLength="68" lengthAdjust="spacingAndGlyphs">Railway</text><text class="f" x="1573.500" y="163" textLength="69" lengthAdjust="spacingAndGlyphs">Product</text><text class="f" x="1592.500" y="185" textLength="107" lengthAdjust="spacingAndGlyphs">Certification</text>
<text class="f" x="1687.500" y="82" textLength="31" lengthAdjust="spacingAndGlyphs">ISO</text><text class="f" x="1686" y="98" textLength="48" lengthAdjust="spacingAndGlyphs">14001</text>
<text class="f" x="1801.500" y="92" textLength="65" lengthAdjust="spacingAndGlyphs">OHSAS</text><text class="f" x="1801.500" y="109" textLength="49" lengthAdjust="spacingAndGlyphs">18001</text>
<text x="1929" y="147" font-size="11" font-weight="bold" transform="rotate(15 1929 143)" textLength="40" lengthAdjust="spacingAndGlyphs">RISAS</text>
<text class="f" x="1866.500" y="173" textLength="35" lengthAdjust="spacingAndGlyphs">IRIS</text><text x="1868.500" y="185" font-size="12" font-weight="bold" textLength="69" lengthAdjust="spacingAndGlyphs">(ISO9001+)</text>
<text class="f" x="1820" y="241" textLength="32" lengthAdjust="spacingAndGlyphs">ISO</text><text class="f" x="1818.500" y="257" textLength="39" lengthAdjust="spacingAndGlyphs">9001</text>
<text class="f" x="1732.500" y="171" textLength="27" lengthAdjust="spacingAndGlyphs">QA</text><text class="f" x="1708.500" y="187" textLength="11" lengthAdjust="spacingAndGlyphs">T</text>
<text class="f" x="1599.500" y="235" textLength="31" lengthAdjust="spacingAndGlyphs">ISA</text><text class="f" x="1724" y="262" textLength="48" lengthAdjust="spacingAndGlyphs">NoBo</text>
</g>

<g id="flower-arrows">
<polygon points="1533,270 1545,279 1415,450 1427,459 1379,482 1389,429 1402,439" fill="#ffff00"/>
<polygon points="1802,280 1818,284 1789,404 1804,407 1769,446 1758,396 1773,399" fill="#ccffcc"/>
</g>

<g id="n-regulator">
<ellipse cx="1624" cy="368" rx="115" ry="32" fill="url(#pr)" stroke="#3399ff" stroke-width="2.500"/>
<path class="lgd" style="stroke-width:5.500" d="M1576,447L1612.700,406"/>
<text class="g" x="1624" y="359" font-size="32" textLength="94" lengthAdjust="spacingAndGlyphs">Safety</text>
<text class="g" x="1624.500" y="398" font-size="32" textLength="147" lengthAdjust="spacingAndGlyphs">Regulator</text>
</g>
</svg>
